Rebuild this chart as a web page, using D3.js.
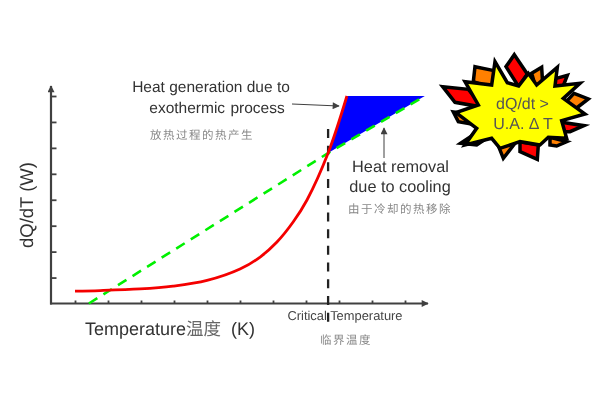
<!DOCTYPE html>
<html><head><meta charset="utf-8">
<script src="https://cdn.jsdelivr.net/npm/d3@7"></script>
<style>html,body{margin:0;padding:0;background:#fff}svg{display:block;text-rendering:geometricPrecision}</style>
</head><body><svg id="c" width="600" height="400"></svg>
<script>
// Data (axis units: one x tick = 1, one y tick = 1)
const xTicks = [0,1,2,3,4,5,6,7,8,9,10];
const yTicks = [1,2,3,4,5,6,7,8];
const generationT = [0,0.76,1.97,2.97,4,5,5.61,6.12,6.61,7.03,7.67,8.24];
const generationQ = [0.48,0.50,0.56,0.67,0.89,1.33,1.79,2.37,3.14,3.99,5.80,8.0];
const removalT = [0.42,7.67,10.6];
const removalQ = [0,5.80,8.0];
const excessT = [7.67,8.24,10.6];
const excessQ = [5.80,8.0,8.0];
const criticalT = 7.67;
const criticalSpan = [-0.7,6.75];

const svg = d3.select("#c");
const x = d3.scaleLinear().domain([0,10]).range([75,405]);
const y = d3.scaleLinear().domain([0,8]).range([303.5,96]);
const sans = "'Liberation Sans',Arial,sans-serif", cjk = "'Noto Sans CJK SC',sans-serif";
const axisCol = "#404040";

const defs = svg.append("defs");
defs.append("marker").attr("id","ah").attr("viewBox","0 0 10 10").attr("refX",9).attr("refY",5)
  .attr("markerWidth",8).attr("markerHeight",7).attr("markerUnits","userSpaceOnUse").attr("orient","auto")
  .append("path").attr("d","M0,0L10,5L0,10Z").attr("fill",axisCol);
defs.append("filter").attr("id","soft").attr("x",0).attr("y",0).attr("width",1).attr("height",1)
  .append("feGaussianBlur").attr("stdDeviation",0.4);
const root = svg.append("g").attr("filter","url(#soft)");
root.append("rect").attr("width",600).attr("height",400).attr("fill","#fff");

// axes
const xAxis = root.append("g").attr("transform",`translate(0,${y(0)})`)
  .call(d3.axisTop(x).tickValues(xTicks).tickSize(3).tickFormat(""));
const yAxis = root.append("g").attr("transform",`translate(51,0)`)
  .call(d3.axisRight(y).tickValues(yTicks).tickSize(5.5).tickFormat(""));
[xAxis,yAxis].forEach(g=>{g.select(".domain").remove();g.selectAll("line").attr("stroke",axisCol).attr("stroke-width",1.8);});
root.append("line").attr("x1",50).attr("x2",428).attr("y1",y(0)).attr("y2",y(0)).attr("stroke",axisCol).attr("stroke-width",2.2).attr("marker-end","url(#ah)");
root.append("line").attr("x1",51).attr("x2",51).attr("y1",y(0)+1).attr("y2",86).attr("stroke",axisCol).attr("stroke-width",2.2).attr("marker-end","url(#ah)");

// marks
root.append("path").attr("d",d3.line().x((d,i)=>x(excessT[i])).y(d=>y(d))(excessQ)+"Z").attr("fill","#0000ff");
root.append("path").attr("d",d3.line().x((d,i)=>x(removalT[i])).y(d=>y(d))(removalQ))
  .attr("fill","none").attr("stroke","#00f000").attr("stroke-width",2.6).attr("stroke-dasharray","10 7.2");
root.append("line").attr("x1",x(criticalT)).attr("x2",x(criticalT)).attr("y1",y(criticalSpan[0])).attr("y2",y(criticalSpan[1]))
  .attr("stroke","#222").attr("stroke-width",2.3).attr("stroke-dasharray","9 7.7");
root.append("path").attr("d",d3.line().curve(d3.curveCatmullRom).x((d,i)=>x(generationT[i])).y(d=>y(d))(generationQ))
  .attr("fill","none").attr("stroke","#f40000").attr("stroke-width",2.8);

// annotation arrows
root.append("line").attr("x1",292).attr("y1",104).attr("x2",339).attr("y2",106).attr("stroke",axisCol).attr("stroke-width",1).attr("marker-end","url(#ah)");
root.append("line").attr("x1",384).attr("y1",158).attr("x2",384).attr("y2",128).attr("stroke",axisCol).attr("stroke-width",1).attr("marker-end","url(#ah)");

// burst
const g = root.append("g").attr("transform","translate(420,30) scale(0.3333)")
  .attr("stroke","#000").attr("stroke-width",10.5).attr("stroke-linejoin","miter");
const pieces = [
 ["#ff0000",[[283,74],[322,132],[296,170],[258,110]]],
 ["#ff8000",[[165,110],[222,122],[228,178],[160,155]]],
 ["#ff8000",[[335,130],[365,112],[368,160],[345,165]]],
 ["#ff0000",[[398,148],[442,136],[425,180],[395,182]]],
 ["#ff0000",[[68,170],[145,178],[190,232],[105,217]]],
 ["#ff8000",[[462,190],[505,207],[462,240],[425,230]]],
 ["#ff8000",[[100,246],[170,255],[170,285],[115,275]]],
 ["#ff0000",[[122,340],[185,298],[225,308],[170,345]]],
 ["#ff0000",[[415,275],[492,287],[450,305],[425,305]]],
 ["#ff8000",[[390,322],[440,335],[410,348],[390,345]]],
 ["#ff8000",[[232,340],[285,340],[250,385]]],
 ["#ff0000",[[300,335],[355,345],[352,388],[300,365]]]
];
pieces.forEach(([c,p])=>g.append("polygon").attr("points",p.join(" ")).attr("fill",c));
const burst = [[225,95],[262,158],[296,168],[325,130],[350,165],[412,112],[405,168],[480,160],[430,205],[495,252],[425,272],[440,325],[385,322],[360,345],[300,335],[240,355],[215,325],[135,345],[170,295],[108,248],[175,225],[135,155],[215,165]];
g.append("polygon").attr("points",burst.join(" ")).attr("fill","#ffff00");

// text
function t(s,px,py,size,opt={}){
  const e=root.append("text").text(s).attr("x",px).attr("y",py).attr("font-size",size)
    .attr("font-family",opt.font||sans).attr("fill",opt.fill||"#333").attr("text-anchor",opt.anchor||"middle");
  if(opt.ls)e.attr("letter-spacing",opt.ls);
  if(opt.ws)e.attr("word-spacing",opt.ws);
  if(opt.rot)e.attr("transform",`rotate(${opt.rot} ${px} ${py})`);
  return e;
}
t("Heat generation due to",211,92,15.5);
t("exothermic process",217,113,15.5,{ws:1});
t("放热过程的热产生",202,139,11.5,{font:cjk,fill:"#888",ls:1.5});
t("Heat removal",400.5,172,16.3);
t("due to cooling",400,192,16.3);
t("由于冷却的热移除",400,213,11.5,{font:cjk,fill:"#888",ls:1.5});
t("Critical Temperature",345,320,12.9,{fill:"#444"});
t("临界温度",346,344,11.5,{font:cjk,fill:"#888",ls:1.5});
t("dQ/dT (W)",33,205,18.5,{rot:-90});
const xl=root.append("text").attr("x",85).attr("y",335).attr("font-size",18).attr("font-family",sans).attr("fill","#333");
xl.append("tspan").text("Temperature");
xl.append("tspan").text("温度").attr("font-family",cjk).attr("font-size",17.5).attr("fill","#666");
xl.append("tspan").text(" (K)").attr("dx",5);
t("dQ/dt >",522.5,109,16,{fill:"#555"});
t("U.A. Δ T",523,129,16,{fill:"#555"});
</script></body></html>
